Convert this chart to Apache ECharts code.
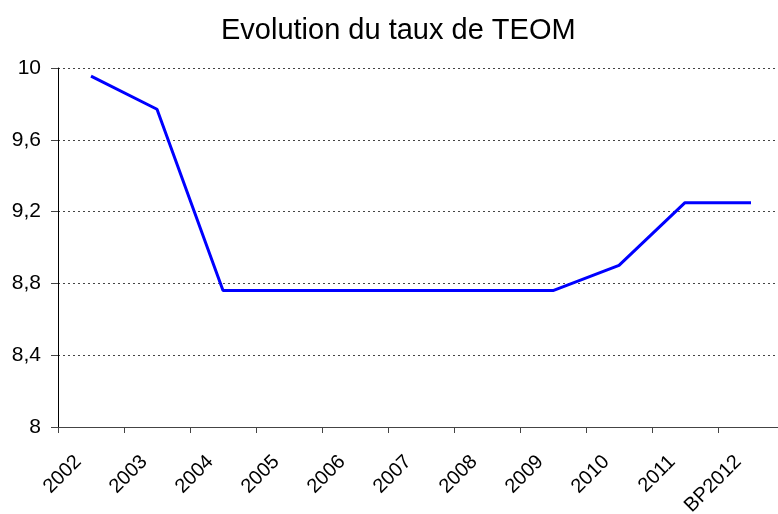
<!DOCTYPE html>
<html><head><meta charset="utf-8">
<script src="https://cdn.jsdelivr.net/npm/echarts@6/dist/echarts.min.js"></script>
<style>html,body{margin:0;padding:0;background:#fff}#c{width:778px;height:514px}</style>
</head><body><div id="c"></div>
<script>
const categories = ['2002','2003','2004','2005','2006','2007','2008','2009','2010','2011','BP2012'];
const tauxTEOM = [9.955, 9.77, 8.76, 8.76, 8.76, 8.76, 8.76, 8.76, 8.90, 9.25, 9.25];
const yMin = 8, yMax = 10, yStep = 0.4;

const chart = echarts.init(document.getElementById('c'), null, {renderer:'canvas'});
chart.setOption({
  animation: false,
  backgroundColor: '#fff',
  title: {
    text: 'Evolution du taux de TEOM',
    left: 216, top: 11,
    textStyle: {fontFamily: 'Liberation Sans, Arial', fontSize: 29, fontWeight: 'normal', color: '#000'}
  },
  grid: {left: 58, top: 68, width: 726, height: 359, containLabel: false, outerBoundsMode: 'none'},
  xAxis: {
    type: 'category', data: categories, boundaryGap: true,
    axisLine: {lineStyle: {color: '#444', width: 1}},
    axisTick: {show: true, length: 6, inside: false, lineStyle: {color: '#444'}},
    axisLabel: {
      rotate: 45, interval: 0, margin: 19, padding: [0, 18, 0, 0],
      fontFamily: 'Liberation Sans, Arial', fontSize: 20, color: '#000'
    },
    splitLine: {show: false}
  },
  yAxis: {
    type: 'value', min: yMin, max: yMax, interval: yStep,
    axisLine: {show: true, lineStyle: {color: '#000', width: 1}},
    axisTick: {show: true, length: 7, lineStyle: {color: '#444'}},
    axisLabel: {
      margin: 17, fontFamily: 'Liberation Sans, Arial', fontSize: 21, color: '#000',
      formatter: v => String(+v.toFixed(1)).replace('.', ',')
    },
    splitLine: {show: true, lineStyle: {color: '#444', type: [2, 3], width: 1}}
  },
  series: [{
    type: 'line', data: tauxTEOM, showSymbol: false, symbol: 'none',
    lineStyle: {color: '#0000ff', width: 3}
  }]
});
</script></body></html>
